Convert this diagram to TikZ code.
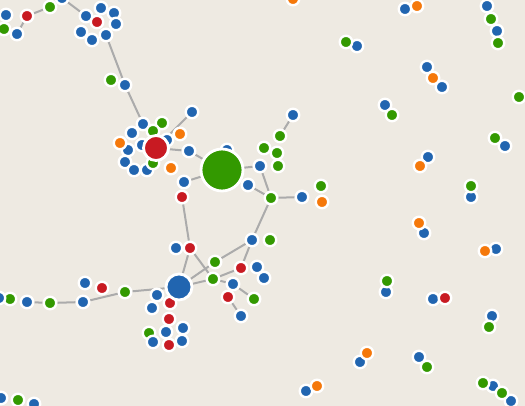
\documentclass[tikz,border=0pt]{standalone}
\usetikzlibrary{backgrounds}
\definecolor{nwpaper}{HTML}{EEEAE2}
\definecolor{nwblue}{HTML}{2165B0}
\definecolor{nwgreen}{HTML}{339900}
\definecolor{nwred}{HTML}{C81A22}
\definecolor{nworange}{HTML}{F5780A}
\definecolor{nwlink}{HTML}{ABABAB}
\pgfdeclarelayer{paper}
\pgfdeclarelayer{links}
\pgfsetlayers{paper,links,main}
\tikzset{
  nw dot/.style={circle, draw=white, line width=2.4pt, inner sep=0pt,
    minimum size=12.5pt},
  nw hub/.style={nw dot, line width=2.8pt},
  nw link/.style={draw=nwlink, line width=2pt}
}

\begin{document}
\begin{tikzpicture}[x=1pt, y=-1pt]
  \useasboundingbox (0,0) rectangle (525,406);
  \clip (0,0) rectangle (525,406);
  \begin{pgfonlayer}{paper}
    \fill[nwpaper] (0,0) rectangle (525,406);
  \end{pgfonlayer}
  % small dots, hidden ones first
  \foreach \n/\x/\y/\c in {
    a1/6/15/nwblue, a2/4/29/nwgreen, a3/17/34/nwblue, a4/27/16/nwred,
    a5/50/7/nwgreen, a6/62/-2/nwblue,
    c1/101/8/nwblue, c2/114/13/nwblue, c3/86/16/nwblue, c4/116/24/nwblue,
    c5/81/32/nwblue, c6/92/40/nwblue, c7/106/35/nwblue, c0/97/22/nwred,
    d1/111/80/nwgreen, d2/125/85/nwblue,
    r1/143/124/nwblue, r2/132/133/nwblue, r3/162/123/nwgreen, r4/153/131/nwgreen,
    r5/167/140/nwblue, r6/142/145/nwblue, r7/128/150/nwblue, r8/120/143/nworange,
    r9/125/162/nwblue, r10/134/170/nwblue, r11/147/170/nwblue, r12/153/163/nwgreen,
    r13/171/168/nworange, r14/180/134/nworange, r15/192/112/nwblue, r16/189/151/nwblue,
    s1/227/150/nwblue, s2/184/182/nwblue, s3/182/197/nwred,
    t1/293/115/nwblue, t2/280/136/nwgreen, t3/264/148/nwgreen, t4/277/153/nwgreen,
    t5/260/166/nwblue, t6/278/166/nwgreen, t7/248/185/nwblue, t8/271/198/nwgreen,
    t9/302/197/nwblue, t10/321/186/nwgreen, t11/322/202/nworange,
    u1/176/248/nwblue, u2/190/248/nwred, u3/215/262/nwgreen, u4/213/279/nwgreen,
    u5/252/240/nwblue, u6/270/240/nwgreen, u7/241/268/nwred, u8/257/267/nwblue,
    u9/264/278/nwblue, u10/233/284/nwblue, u11/228/297/nwred, u12/254/299/nwgreen,
    u13/241/316/nwblue,
    v1/157/295/nwblue, v2/152/308/nwblue, v3/170/303/nwred, v4/169/319/nwred,
    v5/183/328/nwblue, v6/166/332/nwblue, v7/149/333/nwgreen, v8/153/342/nwblue,
    v9/169/345/nwred, v10/182/341/nwblue,
    w1/85/283/nwblue, w2/102/288/nwred, w3/125/292/nwgreen, w4/83/302/nwblue,
    w5/50/303/nwgreen, w6/27/302/nwblue, w7/10/299/nwgreen, w8/-1/298/nwblue,
    x1/1/398/nwblue, x2/18/400/nwgreen, x3/34/404/nwblue,
    e1/293/-1/nworange, e2/405/9/nwblue, e3/417/6/nworange,
    e4/487/6/nwblue, e5/491/19/nwgreen, e6/497/31/nwblue, e7/498/43/nwgreen,
    e8/357/46/nwblue, e9/346/42/nwgreen,
    e10/427/67/nwblue, e11/442/87/nwblue, e12/433/78/nworange,
    e13/519/97/nwgreen, e14/385/105/nwblue, e15/392/115/nwgreen,
    e16/505/146/nwblue, e17/495/138/nwgreen, e18/428/157/nwblue, e19/420/166/nworange,
    e20/471/197/nwblue, e21/471/186/nwgreen, e22/424/233/nwblue, e23/419/223/nworange,
    e24/496/249/nwblue, e25/485/251/nworange, e26/386/292/nwblue, e27/387/281/nwgreen,
    e28/433/299/nwblue, e29/445/298/nwred, e30/492/316/nwblue, e31/489/327/nwgreen,
    e32/360/362/nwblue, e33/367/353/nworange, e34/419/357/nwblue, e35/427/367/nwgreen,
    e36/306/391/nwblue, e37/317/386/nworange,
    e38/493/386/nwblue, e39/483/383/nwgreen, e40/511/401/nwblue, e41/502/393/nwgreen}
    \node[nw dot, fill=\c] (\n) at (\x,\y) {};
  % hubs
  \node[nw hub, fill=nwred, minimum size=25pt] (hubR) at (156,148) {};
  \node[nw hub, fill=nwgreen, minimum size=42pt] (hubG) at (222,170) {};
  \node[nw hub, fill=nwblue, minimum size=26pt] (hubB) at (179,287) {};
  % links
  \begin{pgfonlayer}{links}
    \foreach \a/\b in {a4/a3, a4/a5, a5/a6, a6/c3, c7/d2, d2/r1, r15/hubR,
      hubR/r16, r16/hubG, s2/hubG, s3/u2, hubG/t5, t5/t8, t7/t8, t8/t9,
      t8/u5, t1/t2, u5/u3, u5/u7, u2/hubB, u2/u4, hubB/u3, hubB/u4,
      u4/u7, u4/u10, u10/u11, u11/u13, u10/u12, hubB/w3, w4/w3, w4/w5, w5/w6}
      \draw[nw link] (\a) -- (\b);
  \end{pgfonlayer}
\end{tikzpicture}
\end{document}
